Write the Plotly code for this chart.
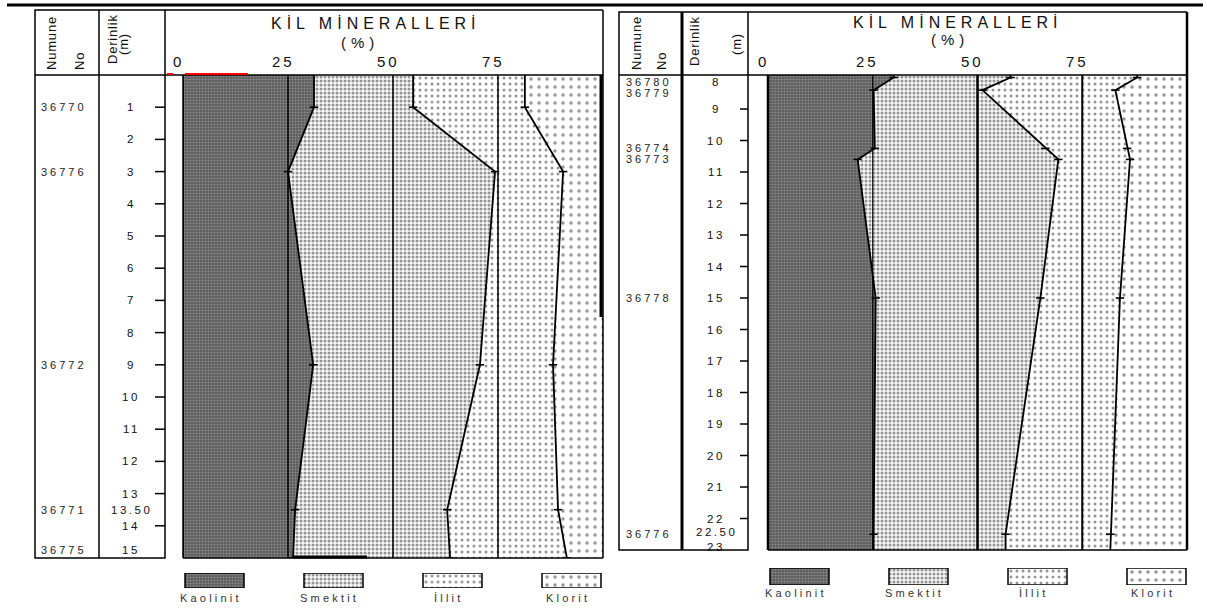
import numpy as np
import plotly.graph_objects as go

# ---------------- data ----------------
minerals = ["Kaolinit", "Smektit", "İllit", "Klorit"]
percent_ticks = [0, 25, 50, 75]
grid_values = [25, 50, 75]

# left column (well section 1)
left_sample_ids = ["36770", "36776", "36772", "36771", "36775"]
left_depths = [1.0, 3.0, 9.0, 13.5, 15.0]
left_kaolinit = [31.2, 25.0, 31.0, 26.7, 26.2]
left_smektit = [23.6, 49.3, 39.7, 36.2, 37.4]
left_illit = [26.6, 16.2, 17.4, 26.4, 27.8]
left_klorit = [18.6, 9.5, 11.9, 10.7, 8.6]
left_depth_labels = ["1", "2", "3", "4", "5", "6", "7", "8", "9", "10", "11", "12", "13", "13.50", "14", "15"]
left_depth_values = [1, 2, 3, 4, 5, 6, 7, 8, 9, 10, 11, 12, 13, 13.5, 14, 15]

# right column (well section 2)
right_sample_ids = ["36780", "36779", "36774", "36773", "36778", "36776"]
right_depths = [8.0, 8.4, 10.25, 10.6, 15.0, 22.5]
right_kaolinit = [30.0, 25.2, 25.5, 21.4, 25.7, 25.2]
right_smektit = [27.9, 26.0, 40.7, 47.9, 39.3, 31.5]
right_illit = [30.2, 31.7, 19.5, 17.1, 19.0, 25.0]
right_klorit = [11.9, 17.1, 14.3, 13.6, 16.0, 18.3]
right_depth_labels = ["8", "9", "10", "11", "12", "13", "14", "15", "16", "17", "18", "19", "20", "21", "22", "22.50", "23"]
right_depth_values = [8, 9, 10, 11, 12, 13, 14, 15, 16, 17, 18, 19, 20, 21, 22, 22.5, 23]

title_text = "KİL MİNERALLERİ"
unit_text = "(%)"

# ---------------- styling ----------------
W, H = 1207, 610
FONT = "Arial, Liberation Sans, sans-serif"


def fx(px):
    return px / W


def fy(py):
    return 1 - py / H


patterns = [
    dict(shape=".", fgcolor="#b8b8b8", bgcolor="#5c5c5c", size=3, solidity=0.4),
    dict(shape=".", fgcolor="#333333", bgcolor="#f6f6f6", size=4, solidity=0.45),
    dict(shape=".", fgcolor="#2c2c2c", bgcolor="#ffffff", size=6, solidity=0.2),
    dict(shape=".", fgcolor="#2c2c2c", bgcolor="#ffffff", size=8, solidity=0.14),
]

panels = [
    dict(xa="x", ya="y", lxa="x3", lya="y3",
         ids=left_sample_ids, depths=left_depths,
         comps=[left_kaolinit, left_smektit, left_illit, left_klorit],
         dlabels=left_depth_labels, dvalues=left_depth_values,
         yrange=[15.0, 0.0],
         plot_px=(183, 603, 75, 558), legend_py=(573, 588), legend_label_py=598,
         table=(35, 99, 165, 10, 558), sep_w=1.5, edge_w=1.5,
         headers=[("Numune", 51, 43), ("No", 80, 61), ("Derinlik", 113, 39), ("(m)", 124, 44)],
         tick_x=(155, 165), dlabel_x=131, id_x=64,
         title_xy=(376, 23), unit_xy=(360, 42), grid_w=[1.5, 1.5, 1.5],
         id_shift={}, dlabel_shift={}),
    dict(xa="x2", ya="y2", lxa="x4", lya="y4",
         ids=right_sample_ids, depths=right_depths,
         comps=[right_kaolinit, right_smektit, right_illit, right_klorit],
         dlabels=right_depth_labels, dvalues=right_depth_values,
         yrange=[23.0, 7.92],
         plot_px=(768, 1187, 75, 550), legend_py=(568, 585), legend_label_py=593,
         table=(619, 682, 748, 12, 550), sep_w=3, edge_w=2.5,
         headers=[("Numune", 636, 43), ("No", 662, 61), ("Derinlik", 694, 41), ("(m)", 737, 44)],
         tick_x=(740, 748), dlabel_x=716, id_x=649,
         title_xy=(958, 22), unit_xy=(950, 40), grid_w=[1.2, 2.5, 2],
         id_shift={"36780": -4, "36779": -3}, dlabel_shift={"22.50": 2, "23": -5}),
]

fig = go.Figure()
shapes = []
annotations = []


def line(x0, y0, x1, y1, w=1.5, color="black"):
    shapes.append(dict(type="line", xref="paper", yref="paper",
                       x0=fx(x0), y0=fy(y0), x1=fx(x1), y1=fy(y1),
                       line=dict(color=color, width=w), layer="above"))


def rect(x0, y0, x1, y1, w=1.5):
    shapes.append(dict(type="rect", xref="paper", yref="paper",
                       x0=fx(x0), y0=fy(y0), x1=fx(x1), y1=fy(y1),
                       line=dict(color="black", width=w), fillcolor="rgba(0,0,0,0)", layer="above"))


def spaced(txt, sp):
    return '<span style="letter-spacing:%spx">%s</span>' % (sp, txt)


layout_axes = {}
for k, p in enumerate(panels):
    xa, ya = p["xa"], p["ya"]
    x0p, x1p, y0p, y1p = p["plot_px"]
    depths = np.array(p["depths"])
    ybot, ytop = p["yrange"]
    dd = np.concatenate([[ytop], depths, [ybot]])
    cum = np.cumsum(np.array(p["comps"], dtype=float), axis=0)
    cum_ext = np.hstack([cum[:, :1], cum, cum[:, -1:]])

    # baseline at 0 %
    fig.add_trace(go.Scatter(x=np.zeros_like(dd), y=dd, mode="lines",
                             line=dict(color="black", width=1.5),
                             xaxis=xa, yaxis=ya, showlegend=False, hoverinfo="skip"))
    for i, name in enumerate(minerals):
        fig.add_trace(go.Scatter(x=cum_ext[i], y=dd, mode="lines", name=name,
                                 fill="tonextx", fillpattern=patterns[i],
                                 line=dict(color="black", width=1.8 if i < 3 else 0.5),
                                 xaxis=xa, yaxis=ya, showlegend=False, hoverinfo="skip"))
    for i in range(3):
        fig.add_trace(go.Scatter(x=cum[i], y=depths, mode="markers",
                                 marker=dict(symbol="line-ew", size=6, color="black",
                                             line=dict(color="black", width=1.6)),
                                 xaxis=xa, yaxis=ya, showlegend=False, hoverinfo="skip"))

    # axes
    n = "" if k == 0 else "2"
    layout_axes["xaxis" + n] = dict(domain=[fx(x0p), fx(x1p)], range=[0, 100], visible=False,
                                    anchor=ya, fixedrange=True)
    layout_axes["yaxis" + n] = dict(domain=[fy(y1p), fy(y0p)], range=p["yrange"], visible=False,
                                    anchor=xa, fixedrange=True)
    ln = "3" if k == 0 else "4"
    ly0, ly1 = p["legend_py"]
    layout_axes["xaxis" + ln] = dict(domain=[fx(x0p), fx(x1p)], range=[0, x1p - x0p], visible=False,
                                     anchor=p["lya"], fixedrange=True)
    layout_axes["yaxis" + ln] = dict(domain=[fy(ly1), fy(ly0)], range=[0, 1], visible=False,
                                     anchor=p["lxa"], fixedrange=True)

    # legend boxes
    for i, name in enumerate(minerals):
        bx0 = 2 + 119 * i
        bx1 = bx0 + 59
        fig.add_trace(go.Scatter(x=[bx0, bx1, bx1, bx0, bx0], y=[0, 0, 1, 1, 0], mode="lines",
                                 fill="toself", fillpattern=patterns[i],
                                 line=dict(color="black", width=1.5),
                                 xaxis=p["lxa"], yaxis=p["lya"], showlegend=False, hoverinfo="skip"))
        annotations.append(dict(xref="paper", yref="paper", x=fx(x0p + (bx0 + bx1) / 2 - 4),
                                y=fy(p["legend_label_py"]), text=spaced(name, 3.2), showarrow=False,
                                font=dict(family=FONT, size=11, color="#333333"),
                                xanchor="center", yanchor="middle"))

    # vertical grid lines over the fills
    for gv, gw in zip(grid_values, p["grid_w"]):
        shapes.append(dict(type="line", xref=xa, yref=ya + " domain", x0=gv, x1=gv, y0=0, y1=1,
                           line=dict(color="black", width=gw), layer="above"))

    # table frame
    tl, tsep, tr, ttop, tbot = p["table"]
    rect(tl, ttop, tr, tbot, 1.5)
    line(tsep, ttop, tsep, tbot, p["sep_w"])
    line(tr, ttop, x1p, ttop, 1.5)
    line(x1p, ttop, x1p, y1p, p["edge_w"])
    line(tl, y0p, x1p, y0p, 1.5)
    line(x0p, y0p, x0p, y1p, p["edge_w"])
    line(x0p, y1p, x1p, y1p, 1.5)

    # header texts
    tx, ty = p["title_xy"]
    annotations.append(dict(xref="paper", yref="paper", x=fx(tx), y=fy(ty), text=spaced(title_text, 5),
                            showarrow=False, font=dict(family=FONT, size=16, color="#111"),
                            xanchor="center", yanchor="middle"))
    ux, uy = p["unit_xy"]
    annotations.append(dict(xref="paper", yref="paper", x=fx(ux), y=fy(uy), text=spaced(unit_text, 5),
                            showarrow=False, font=dict(family=FONT, size=15, color="#111"),
                            xanchor="center", yanchor="middle"))
    for tv in percent_ticks:
        annotations.append(dict(xref=xa, yref="paper", x=tv, y=fy(62), xshift=-5,
                                text=spaced(str(tv), 3), showarrow=False,
                                font=dict(family=FONT, size=15, color="#111"),
                                xanchor="center", yanchor="middle"))

    for txt, xpos, ypos in p["headers"]:
        annotations.append(dict(xref="paper", yref="paper", x=fx(xpos), y=fy(ypos), text=spaced(txt, 0.8),
                                textangle=-90, showarrow=False,
                                font=dict(family=FONT, size=13, color="#111"),
                                xanchor="center", yanchor="middle"))

    # depth ticks and labels
    t0, t1 = p["tick_x"]
    for lab, dv in zip(p["dlabels"], p["dvalues"]):
        near_top = abs(dv - ytop) < 0.2
        near_bot = abs(dv - ybot) < 0.2
        if float(dv).is_integer() and not near_top and not near_bot:
            shapes.append(dict(type="line", xref="paper", yref=ya, x0=fx(t0), x1=fx(t1), y0=dv, y1=dv,
                               line=dict(color="black", width=1.5), layer="above"))
        shift = p["dlabel_shift"].get(lab, -4 if near_top else 0)
        annotations.append(dict(xref="paper", yref=ya, x=fx(p["dlabel_x"]), y=dv,
                                yshift=shift,
                                text=spaced(lab, 2.5), showarrow=False,
                                font=dict(family=FONT, size=11.5, color="#111"),
                                xanchor="center", yanchor="bottom" if near_bot else "middle"))
    # sample numbers
    for sid, dv in zip(p["ids"], p["depths"]):
        near_bot = abs(dv - ybot) < 0.2
        annotations.append(dict(xref="paper", yref=ya, x=fx(p["id_x"]), y=dv,
                                yshift=p["id_shift"].get(sid, 0),
                                text=spaced(sid, 3), showarrow=False,
                                font=dict(family=FONT, size=11, color="#222"),
                                xanchor="center", yanchor="bottom" if near_bot else "middle"))

# page-wide decorations seen in the source image
line(7, 5, 1203, 5, 3)
line(167, 74, 173, 74, 2, "red")
line(185, 74, 248, 74, 2, "red")
line(601, 75, 601, 317, 3)
line(293, 557, 367, 557, 3)

fig.update_layout(
    width=W, height=H,
    margin=dict(l=0, r=0, t=0, b=0),
    paper_bgcolor="white", plot_bgcolor="white",
    showlegend=False,
    shapes=shapes, annotations=annotations,
    **layout_axes,
)

fig.write_html("out.html", config={"displayModeBar": False, "staticPlot": True},
               post_script="document.body.style.margin='0';document.body.style.overflow='hidden';")
